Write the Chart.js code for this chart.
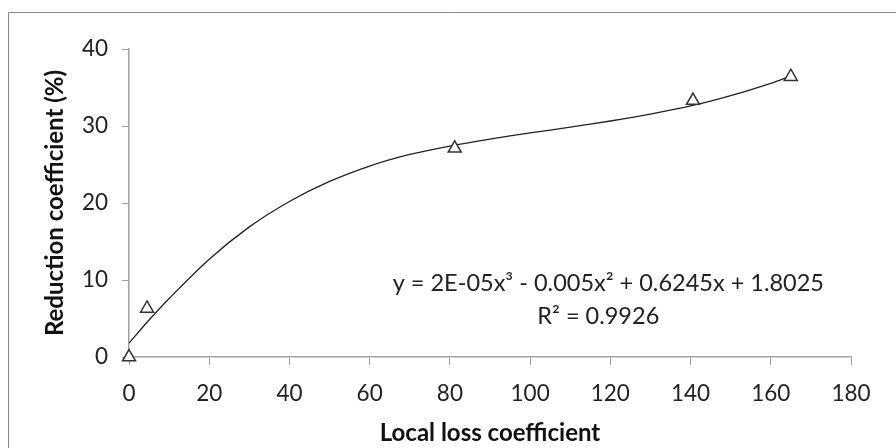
<!DOCTYPE html>
<html lang="en">
<head>
    <meta charset="UTF-8">
    <title>Reduction coefficient vs local loss coefficient</title>
    <script src="https://cdn.jsdelivr.net/npm/chart.js"></script>
    <style>
        html, body {
            margin: 0;
            padding: 0;
            background: #fff;
        }
        .wrap {
            position: relative;
            width: 896px;
            height: 448px;
        }
    </style>
</head>
<body>
    <div class="wrap">
        <canvas id="grafico" width="896" height="448"></canvas>
    </div>
    <script>
        // measured points
        const lossCoef = [0, 4.5, 81.2, 140.6, 165];
        const reduction = [0, 6.3, 27.1, 33.3, 36.4];

        // trendline
        const trendX = [0, 5, 10, 20, 30, 40, 50, 60, 70, 80, 90, 100, 110, 120, 130, 140, 150, 160, 165];
        const trendY = [1.8, 4.8, 7.6, 12.7, 16.9, 20.2, 22.8, 24.8, 26.3, 27.4, 28.3, 29.1, 29.85, 30.65, 31.55, 32.6, 33.95, 35.55, 36.5];

        const xTicks = [0, 20, 40, 60, 80, 100, 120, 140, 160, 180];
        const yTicks = [0, 10, 20, 30, 40];

        const equation = 'y = 2E-05x³ - 0.005x² + 0.6245x + 1.8025';
        const rSquared = 'R² = 0.9926';

        const FONT = 'Lato, "Open Sans", sans-serif';

        const framePlugin = {
            id: 'frame',
            afterDraw(chart) {
                const ctx = chart.ctx;
                const a = chart.chartArea;
                ctx.save();
                // outer frame (cut at right and bottom)
                ctx.strokeStyle = '#8c8c8c';
                ctx.lineWidth = 1;
                ctx.beginPath();
                ctx.moveTo(8.5, 448);
                ctx.lineTo(8.5, 12.5);
                ctx.lineTo(896, 12.5);
                ctx.stroke();

                // axis titles
                ctx.fillStyle = '#111';
                ctx.font = 'bold 24px ' + FONT;
                ctx.textAlign = 'center';
                ctx.textBaseline = 'middle';
                ctx.fillText('Local loss coefficient', (a.left + a.right) / 2, 433);
                ctx.translate(55, (a.top + a.bottom) / 2);
                ctx.rotate(-Math.PI / 2);
                ctx.fillText('Reduction coefficient (%)', 0, 0);
                ctx.restore();

                // trendline label
                const xs = chart.scales.x, ys = chart.scales.y;
                ctx.save();
                ctx.fillStyle = '#222';
                ctx.font = '23.5px ' + FONT;
                ctx.textAlign = 'center';
                ctx.textBaseline = 'middle';
                ctx.fillText(equation, xs.getPixelForValue(119.5), ys.getPixelForValue(9.6));
                ctx.fillText(rSquared, xs.getPixelForValue(117), ys.getPixelForValue(5.3));
                ctx.restore();
            }
        };

        const ctx = document.getElementById('grafico').getContext('2d');
        new Chart(ctx, {
            type: 'scatter',
            data: {
                datasets: [{
                    label: 'trend',
                    type: 'line',
                    data: trendX.map((x, i) => ({ x: x, y: trendY[i] })),
                    borderColor: '#222',
                    borderWidth: 1.3,
                    pointRadius: 0,
                    tension: 0.3,
                    fill: false,
                    order: 2
                }, {
                    label: 'data',
                    data: lossCoef.map((x, i) => ({ x: x, y: reduction[i] })),
                    pointStyle: 'triangle',
                    pointRadius: 7.5,
                    backgroundColor: '#fff',
                    borderColor: '#333',
                    borderWidth: 1.5,
                    clip: false,
                    order: 1
                }]
            },
            options: {
                responsive: false,
                animation: false,
                layout: { padding: { top: 49, right: 45, left: 0, bottom: 0 } },
                plugins: {
                    legend: { display: false },
                    tooltip: { enabled: false }
                },
                scales: {
                    x: {
                        type: 'linear',
                        min: 0,
                        max: 180,
                        afterBuildTicks: s => { s.ticks = xTicks.map(v => ({ value: v })); },
                        afterFit: s => { s.height = 448 - 357; },
                        grid: {
                            display: true,
                            drawOnChartArea: false,
                            drawTicks: true,
                            tickLength: 8,
                            color: '#a0a0a0'
                        },
                        border: { color: '#a0a0a0', width: 1.5 },
                        ticks: {
                            color: '#222',
                            font: { family: FONT, size: 22.5 },
                            padding: 15,
                            maxRotation: 0
                        }
                    },
                    y: {
                        min: 0,
                        max: 40,
                        afterBuildTicks: s => { s.ticks = yTicks.map(v => ({ value: v })); },
                        afterFit: s => { s.width = 129; },
                        grid: {
                            display: true,
                            drawOnChartArea: false,
                            drawTicks: true,
                            tickLength: 7,
                            color: '#a0a0a0'
                        },
                        border: { color: '#a0a0a0', width: 1.5 },
                        ticks: {
                            color: '#222',
                            font: { family: FONT, size: 22.5 },
                            padding: 14
                        }
                    }
                }
            },
            plugins: [framePlugin]
        });
    </script>
</body>
</html>
